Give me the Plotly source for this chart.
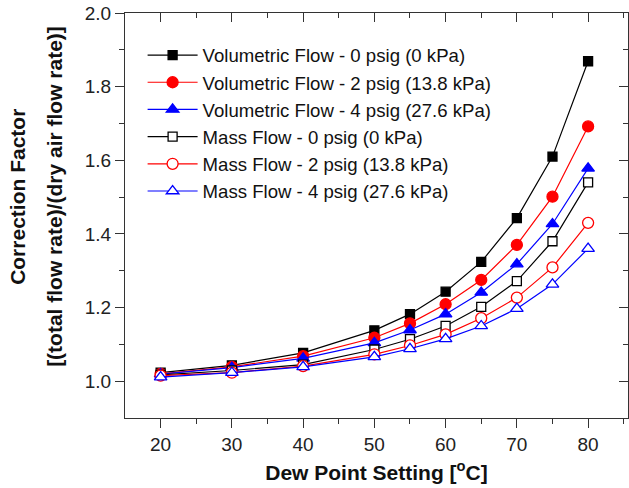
import plotly.graph_objects as go

dew_point = [20, 30, 40, 50, 55, 60, 65, 70, 75, 80]

vol_0 = [1.023, 1.043, 1.077, 1.138, 1.182, 1.243, 1.324, 1.443, 1.610, 1.869]
vol_2 = [1.020, 1.039, 1.068, 1.118, 1.157, 1.209, 1.275, 1.370, 1.501, 1.692]
vol_4 = [1.019, 1.037, 1.062, 1.104, 1.139, 1.182, 1.241, 1.318, 1.427, 1.578]
mass_0 = [1.017, 1.029, 1.045, 1.086, 1.114, 1.150, 1.202, 1.272, 1.380, 1.540]
mass_2 = [1.015, 1.023, 1.041, 1.073, 1.097, 1.127, 1.171, 1.227, 1.309, 1.430]
mass_4 = [1.011, 1.023, 1.039, 1.066, 1.088, 1.115, 1.150, 1.197, 1.263, 1.360]

series = [
    ("Volumetric Flow - 0 psig (0 kPa)", vol_0, "black", "square", True),
    ("Volumetric Flow - 2 psig (13.8 kPa)", vol_2, "#ff0000", "circle", True),
    ("Volumetric Flow - 4 psig (27.6 kPa)", vol_4, "#0000ff", "triangle-up", True),
    ("Mass Flow - 0 psig (0 kPa)", mass_0, "black", "square", False),
    ("Mass Flow - 2 psig (13.8 kPa)", mass_2, "#ff0000", "circle", False),
    ("Mass Flow - 4 psig (27.6 kPa)", mass_4, "#0000ff", "triangle-up", False),
]

fig = go.Figure()
for i, (name, vals, col, sym, filled) in enumerate(series):
    size = 9 if sym == "square" else 11
    fig.add_trace(go.Scatter(
        x=dew_point, y=vals, name=name, mode="lines+markers",
        legendgroup=f"g{i}",
        line=dict(color=col, width=1.2),
        marker=dict(symbol=sym, size=size,
                    color=col if filled else "white",
                    line=dict(color=col, width=1.3)),
    ))

FONT = "Arial, Liberation Sans, sans-serif"
XR = [15, 85.6]
YR = [0.9, 2.0]
TICKC = "#333"

fig.update_layout(
    width=629, height=488,
    margin=dict(l=125, r=1, t=13, b=70),
    paper_bgcolor="white", plot_bgcolor="white",
    font=dict(family=FONT, size=19, color="#222"),
    showlegend=True,
    legend=dict(x=0.035, y=0.942, xanchor="left", yanchor="top",
                bgcolor="rgba(0,0,0,0)", font=dict(family=FONT, size=18.6, color="#111"),
                itemwidth=50, tracegroupgap=0),
    xaxis=dict(range=XR, tickvals=[20, 30, 40, 50, 60, 70, 80],
               ticks="outside", ticklen=9, tickcolor=TICKC, tickwidth=1.2,
               minor=dict(tickvals=[25, 35, 45, 55, 65, 75, 85], ticklen=5, ticks="outside", tickcolor=TICKC),
               showline=True, linecolor=TICKC, linewidth=1.2, showgrid=False, zeroline=False,
               tickfont=dict(family=FONT, size=19, color="#222"),
               title=dict(text="<b>Dew Point Setting [<sup>o</sup>C]</b>", font=dict(family=FONT, size=21, color="#111"), standoff=11)),
    yaxis=dict(range=YR, tickvals=[1.0, 1.2, 1.4, 1.6, 1.8, 2.0], ticktext=["1.0", "1.2", "1.4", "1.6", "1.8", "2.0"],
               ticks="outside", ticklen=9, tickcolor=TICKC, tickwidth=1.2,
               minor=dict(tickvals=[1.1, 1.3, 1.5, 1.7, 1.9], ticklen=5, ticks="outside", tickcolor=TICKC),
               showline=True, linecolor=TICKC, linewidth=1.2, showgrid=False, zeroline=False,
               tickfont=dict(family=FONT, size=19, color="#222")),
    xaxis2=dict(range=XR, overlaying="x", side="top", tickvals=[20, 30, 40, 50, 60, 70, 80],
                ticks="inside", ticklen=9, tickcolor=TICKC, tickwidth=1.2,
                minor=dict(tickvals=[25, 35, 45, 55, 65, 75, 85], ticklen=5, ticks="inside", tickcolor=TICKC),
                showticklabels=False, showline=True, linecolor=TICKC, linewidth=1.2, showgrid=False, zeroline=False),
    yaxis2=dict(range=YR, overlaying="y", side="right", tickvals=[1.0, 1.2, 1.4, 1.6, 1.8, 2.0],
                ticks="inside", ticklen=9, tickcolor=TICKC, tickwidth=1.2,
                minor=dict(tickvals=[1.1, 1.3, 1.5, 1.7, 1.9], ticklen=5, ticks="inside", tickcolor=TICKC),
                showticklabels=False, showline=True, linecolor=TICKC, linewidth=1.2, showgrid=False, zeroline=False),
)

# invisible trace to activate secondary axes
fig.add_trace(go.Scatter(x=[None], y=[None], xaxis="x2", yaxis="y2", showlegend=False, hoverinfo="skip"))

fig.add_annotation(text="<b>Correction Factor</b>", xref="paper", yref="paper",
                   x=(18 - 125) / 503, y=0.546, textangle=-90, showarrow=False,
                   font=dict(family=FONT, size=21, color="#111"), xanchor="center", yanchor="middle")
fig.add_annotation(text="<b>[(total flow rate)/(dry air flow rate)]</b>", xref="paper", yref="paper",
                   x=(55 - 125) / 503, y=0.546, textangle=-90, showarrow=False,
                   font=dict(family=FONT, size=21, color="#111"), xanchor="center", yanchor="middle")

fig.write_html("out.html")
